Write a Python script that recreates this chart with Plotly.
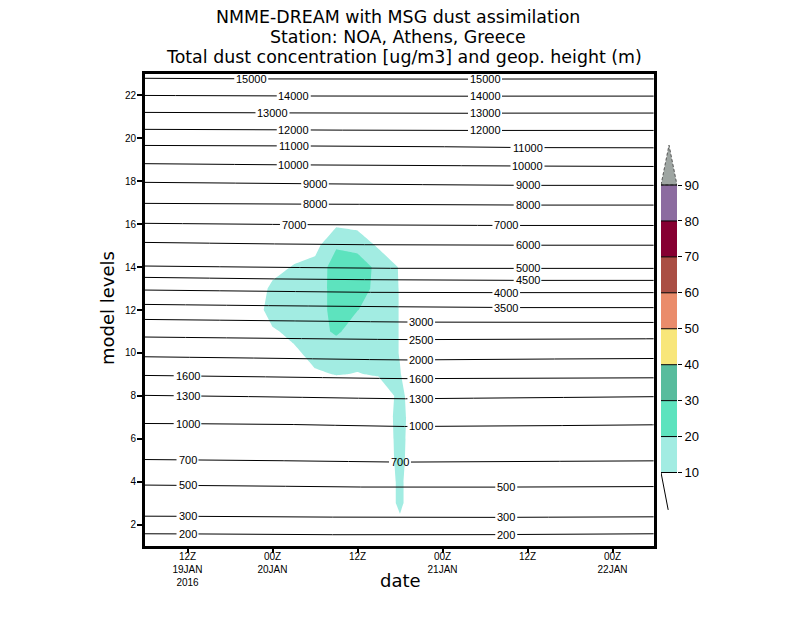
import numpy as np
import plotly.graph_objects as go

# ---------------- data ----------------
# time axis: hours since 2016-01-19 00Z
tick_hours = [12, 24, 36, 48, 60, 72]
tick_text = ["12Z<br>19JAN<br>2016", "00Z<br>20JAN", "12Z", "00Z<br>21JAN", "12Z", "00Z<br>22JAN"]
level_ticks = [2, 4, 6, 8, 10, 12, 14, 16, 18, 20, 22]

# geopotential height lines (model level where each height sits, at these hours)
geo_hours = [6, 24, 42, 60, 78]
geo_heights = [200, 300, 500, 700, 1000, 1300, 1600, 2000, 2500, 3000, 3500, 4000,
               4500, 5000, 6000, 7000, 8000, 9000, 10000, 11000, 12000, 13000, 14000, 15000]
geo_levels = [
    [1.57, 1.55, 1.50, 1.54, 1.57],
    [2.39, 2.37, 2.32, 2.34, 2.36],
    [3.84, 3.79, 3.73, 3.75, 3.77],
    [5.03, 4.98, 4.91, 4.94, 4.97],
    [6.71, 6.68, 6.57, 6.60, 6.65],
    [8.02, 7.95, 7.86, 7.91, 7.96],
    [8.95, 8.88, 8.80, 8.82, 8.84],
    [9.82, 9.75, 9.67, 9.71, 9.74],
    [10.74, 10.68, 10.62, 10.63, 10.66],
    [11.56, 11.50, 11.44, 11.42, 11.42],
    [12.26, 12.20, 12.15, 12.11, 12.11],
    [12.93, 12.87, 12.81, 12.81, 12.81],
    [13.52, 13.45, 13.40, 13.38, 13.38],
    [14.05, 13.99, 13.94, 13.94, 13.94],
    [15.15, 15.08, 15.03, 15.02, 15.02],
    [16.04, 15.99, 15.95, 15.94, 15.94],
    [16.97, 16.94, 16.92, 16.89, 16.89],
    [17.95, 17.90, 17.85, 17.81, 17.81],
    [18.82, 18.77, 18.74, 18.71, 18.69],
    [19.67, 19.65, 19.63, 19.57, 19.56],
    [20.42, 20.40, 20.37, 20.37, 20.37],
    [21.21, 21.19, 21.16, 21.18, 21.18],
    [22.00, 21.98, 21.96, 21.97, 21.97],
    [22.80, 22.77, 22.75, 22.77, 22.77],
]
# hours at which each height line is labelled
geo_label_hours = [
    [12, 57], [12, 57], [12, 57], [12, 42], [12, 45], [12, 45], [12, 45], [45], [45], [45],
    [57], [57], [60], [60], [60], [27, 57], [30, 60], [30, 60], [27, 60], [27, 60],
    [27, 54], [24, 54], [27, 54], [21, 54],
]

# dust concentration [ug/m3] on model grid (3-hourly, levels 1..23)
dust_hours = list(range(6, 79, 3))
model_levels = list(range(1, 24))
plume_hours = [24, 27, 30, 33, 36, 39, 42]
plume_levels = list(range(2, 17))
plume_values = [
    [0, 0, 0, 0, 0, 0, 8],
    [0, 0, 0, 0, 0, 2, 12],
    [0, 0, 0, 0, 0, 2, 12],
    [0, 0, 0, 0, 0, 2, 13],
    [0, 0, 0, 0, 0, 2, 13.5],
    [0, 0, 0, 0, 0, 2, 14],
    [0, 0, 0, 0, 0, 2, 13],
    [0, 0, 8, 10.5, 9.5, 11, 10.5],
    [0, 7, 15, 12, 14, 17, 9.5],
    [8, 14, 15, 22, 14, 17, 9.5],
    [17, 16, 16, 23, 20.2, 17, 9.5],
    [13, 16, 16, 23, 24.5, 17, 9.5],
    [5, 11, 13, 25, 26, 17, 9.2],
    [0, 3, 7, 19, 16.6, 8.7, 5],
    [0, 0, 0, 8.5, 7.3, 0, 0],
]
dust_levels = [10, 20, 30, 40, 50, 60, 70, 80, 90]
band_colors = ["#a2ece2", "#5de3be", "#58bc9d", "#f8e67a", "#ea8c6b",
               "#aa4e44", "#860032", "#8c6ca0"]
over_color = "#9ea5a2"

# ---------------- build ----------------
dust = np.zeros((len(model_levels), len(dust_hours)))
for i, lv in enumerate(plume_levels):
    for j, h in enumerate(plume_hours):
        dust[model_levels.index(lv), dust_hours.index(h)] = plume_values[i][j]

fig = go.Figure()

cs = ["white"] + band_colors + [over_color]
n = len(cs)
colorscale = [[k / (n - 1), c] for k, c in enumerate(cs)]
fig.add_trace(go.Contour(
    x=dust_hours, y=model_levels, z=dust,
    autocontour=False,
    contours=dict(start=dust_levels[0], end=dust_levels[-1], size=10,
                  coloring="fill", showlines=False),
    line=dict(width=0, smoothing=0),
    colorscale=colorscale, showscale=False, hoverinfo="skip",
))

PX_PER_HOUR = 7.0833
xs = np.linspace(6, 78, 1441)
annotations = []
for hgt, lv, lh in zip(geo_heights, geo_levels, geo_label_hours):
    ys = np.interp(xs, geo_hours, lv)
    txt = str(hgt)
    half = (len(txt) * 6.1 + 3) / 2 / PX_PER_HOUR
    yl = ys.astype(object)
    for t0 in lh:
        yl[np.abs(xs - t0) < half] = None
        annotations.append(dict(x=t0, y=float(np.interp(t0, geo_hours, lv)), xref="x", yref="y",
                                text=txt, showarrow=False, xanchor="center", yanchor="middle",
                                font=dict(family="Liberation Sans", size=11, color="black")))
    fig.add_trace(go.Scatter(x=xs, y=list(yl), mode="lines", line=dict(color="black", width=1),
                             hoverinfo="skip", connectgaps=False))

# colour bar
fig.add_trace(go.Bar(x=[0] * len(band_colors), y=[10] * len(band_colors), base=dust_levels[:-1],
                     marker=dict(color=band_colors, line=dict(width=0)), width=1,
                     xaxis="x2", yaxis="y2", hoverinfo="skip"))
tri_top = dust_levels[-1] + 11.1
fig.add_trace(go.Scatter(x=[-0.5, 0, 0.5, -0.5], y=[dust_levels[-1], tri_top, dust_levels[-1], dust_levels[-1]],
                         fill="toself", fillcolor=over_color, mode="lines",
                         line=dict(color="#555555", width=1, dash="3px,2px"),
                         xaxis="x2", yaxis="y2", hoverinfo="skip"))
sx, sy = [], []
for lvl in dust_levels:
    sx += [-0.5, 0.5, None]
    sy += [lvl, lvl, None]
sx += [-0.5, -0.05]
sy += [dust_levels[0], dust_levels[0] - 10.4]
fig.add_trace(go.Scatter(x=sx, y=sy, mode="lines", line=dict(color="black", width=1),
                         xaxis="x2", yaxis="y2", hoverinfo="skip"))

# layout helpers: screen pixel -> paper coords (page is drawn with an 8px body margin)
W = 555.0
H = 472.0
def px(xp):
    return (xp - 145) / W
def py(yp):
    return (546 - yp) / H

title_lines = ["NMME-DREAM with MSG dust assimilation",
               "Station: NOA, Athens, Greece",
               "Total dust concentration [ug/m3] and geop. height (m)"]
for txt, xp, yp in zip(title_lines, [398, 398, 404], [17, 37, 57]):
    annotations.append(dict(x=px(xp), y=py(yp), xref="paper", yref="paper", text=txt,
                            showarrow=False, xanchor="center", yanchor="middle",
                            font=dict(family="DejaVu Sans", size=17.4, color="black")))
annotations.append(dict(x=px(400), y=py(580), xref="paper", yref="paper", text="date",
                        showarrow=False, xanchor="center", yanchor="middle",
                        font=dict(family="DejaVu Sans", size=18, color="black")))
annotations.append(dict(x=px(107), y=py(308), xref="paper", yref="paper", text="model levels",
                        showarrow=False, xanchor="center", yanchor="middle", textangle=-90,
                        font=dict(family="DejaVu Sans", size=18, color="black")))

fig.update_layout(
    width=792, height=610,
    margin=dict(l=137, r=100, t=66, b=72),
    paper_bgcolor="white", plot_bgcolor="white",
    showlegend=False,
    annotations=annotations,
    xaxis=dict(domain=[0, (653.6 - 145) / W], range=[6, 77.8], tickmode="array",
               tickvals=tick_hours, ticktext=tick_text, ticks="outside", ticklen=4, tickwidth=1.5,
               tickcolor="black", showline=True, linewidth=3, linecolor="black", mirror=True,
               showgrid=False, zeroline=False, ticklabelstandoff=-5,
               tickfont=dict(family="Liberation Sans", size=10, color="black")),
    yaxis=dict(domain=[0, 1], range=[1, 23], tickmode="array", tickvals=level_ticks,
               ticks="outside", ticklen=5, tickwidth=1.5, tickcolor="black",
               showline=True, linewidth=3, linecolor="black", mirror=True,
               showgrid=False, zeroline=False, ticklabelstandoff=-1,
               tickfont=dict(family="Liberation Sans", size=10, color="black")),
    xaxis2=dict(domain=[px(661), px(677)], range=[-0.5, 0.5], visible=False, fixedrange=True),
    yaxis2=dict(domain=[py(510), py(145)], range=[-0.434, 101.13], anchor="x2", side="right",
                tickmode="array", tickvals=dust_levels, ticks="outside", ticklen=4,
                tickcolor="black", showline=False, showgrid=False, zeroline=False,
                tickfont=dict(family="Liberation Sans", size=13, color="black")),
)

fig.write_html("out.html")
